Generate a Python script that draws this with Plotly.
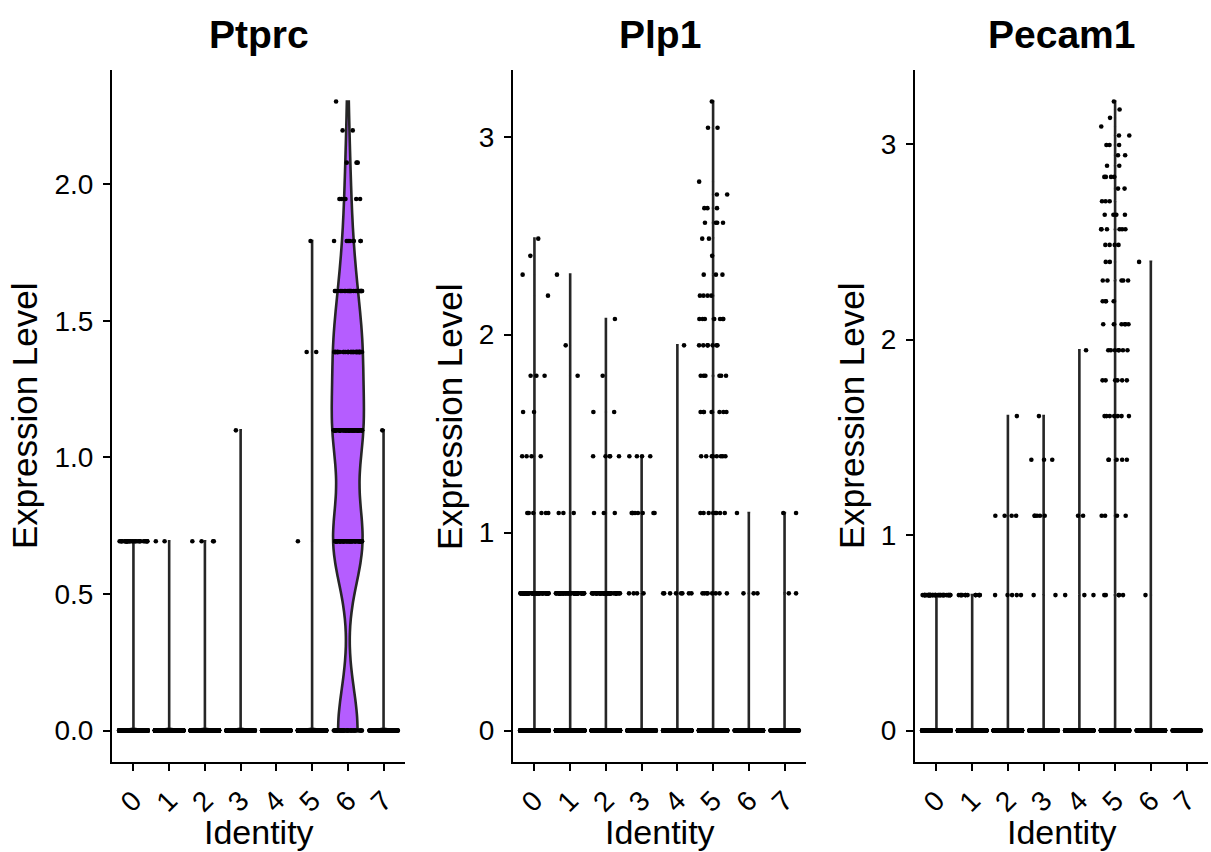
import numpy as np
import plotly.graph_objects as go

# ---- data -----------------------------------------------------------------
CLUSTERS = ["0", "1", "2", "3", "4", "5", "6", "7"]
CLUSTER_SIZES = [900, 760, 680, 520, 480, 420, 243, 110]
CLUSTER_COLORS = ["#F8766D", "#CD9600", "#7CAE00", "#00BE67",
                  "#00BFC4", "#00A9FF", "#B55DFF", "#FF61CC"]
GENES = ["Ptprc", "Plp1", "Pecam1"]

# expression levels (log1p of UMI counts 0..24)
LEVELS = [0.000, 0.693, 1.099, 1.386, 1.609, 1.792, 1.946, 2.079, 2.197,
          2.303, 2.398, 2.485, 2.565, 2.639, 2.708, 2.773, 2.833, 2.890,
          2.944, 2.996, 3.045, 3.091, 3.135, 3.178, 3.219]

# cells per non-zero level (LEVELS[1], LEVELS[2], ...) for each cluster;
# the remaining cells of the cluster sit at 0
PTPRC_COUNTS = [
    [30],
    [2],
    [4],
    [0, 1],
    [],
    [1, 0, 2, 0, 1],
    [60, 55, 45, 22, 8, 6, 3, 2, 1],
    [0, 1],
]
PLP1_COUNTS = [
    [60, 6, 4, 2, 3, 0, 0, 1, 1, 1, 1],
    [50, 3, 0, 0, 1, 1, 0, 0, 1],
    [45, 3, 5, 2, 1, 0, 1],
    [4, 8, 4],
    [8, 0, 0, 0, 0, 1],
    [8, 8, 8, 7, 6, 7, 7, 4, 3, 1, 2, 4, 3, 2, 1, 0, 0, 0, 0, 2, 0, 0, 1],
    [3, 1],
    [2, 2],
]
PECAM1_COUNTS = [
    [40],
    [12],
    [5, 4, 0, 1],
    [2, 5, 3, 1],
    [3, 2, 0, 0, 0, 1],
    [5, 4, 5, 7, 6, 7, 6, 4, 5, 2, 4, 6, 4, 3, 2, 4, 2, 2, 3, 2, 1, 1, 1, 1],
    [1, 0, 0, 0, 0, 0, 0, 0, 0, 1],
    [],
]
GENE_COUNTS = [PTPRC_COUNTS, PLP1_COUNTS, PECAM1_COUNTS]
Y_TICKS = [[0, 0.5, 1.0, 1.5, 2.0], [0, 1, 2, 3], [0, 1, 2, 3]]
Y_TICKTEXT = [["0.0", "0.5", "1.0", "1.5", "2.0"], ["0", "1", "2", "3"], ["0", "1", "2", "3"]]

# ---- layout geometry (pixels) ---------------------------------------------
W, H = 1211, 852
PANEL_X = [(112, 405), (513, 806), (915, 1208)]
PANEL_TOP, PANEL_BOTTOM = 70, 762
YTITLE_X = [25, 450, 852]
FONT = "Liberation Sans, Arial, Helvetica, sans-serif"
LEVEL_NUDGE = 5e-4  # keeps each expression level in its own jitter group


def px_x(v):
    return v / W


def px_y(v):
    return 1 - v / H


def nrd0(vals):
    """Silverman's rule of thumb (R's bw.nrd0); tiny when the IQR collapses."""
    q1, q3 = np.percentile(vals, [25, 75])
    if q3 - q1 <= 0:
        return 0.003
    lo = min(vals.std(ddof=1), (q3 - q1) / 1.34)
    return 0.9 * lo * len(vals) ** -0.2


fig = go.Figure()
annotations = []

for g, (gene, counts) in enumerate(zip(GENES, GENE_COUNTS)):
    sfx = "" if g == 0 else str(g + 1)
    xa, ya = "x" + sfx, "y" + sfx
    gene_max = 0.0
    pt_x, pt_y = [], []
    for c in range(len(CLUSTERS)):
        nz = counts[c]
        n_zero = CLUSTER_SIZES[c] - sum(nz)
        per_level = [n_zero] + list(nz)
        vals = np.repeat(LEVELS[:len(per_level)], per_level)
        vmax = float(vals.max())
        gene_max = max(gene_max, vmax)
        if vmax > 0:
            fig.add_trace(go.Violin(
                x=np.full(len(vals), c), y=vals, xaxis=xa, yaxis=ya,
                bandwidth=nrd0(vals), spanmode="hard", scalemode="width", width=0.9,
                fillcolor=CLUSTER_COLORS[c], line=dict(color="#262626", width=2.6),
                points=False, box_visible=False, meanline_visible=False,
                showlegend=False, hoverinfo="skip",
            ))
        for j, k in enumerate(per_level):
            if k > 0:
                pt_x.extend([c + j * LEVEL_NUDGE] * k)
                pt_y.extend([LEVELS[j]] * k)

    # jittered cells, drawn on top of the violins
    fig.add_trace(go.Box(
        x=pt_x, y=pt_y, xaxis=xa, yaxis=ya,
        boxpoints="all", jitter=1, pointpos=0, width=0.8,
        fillcolor="rgba(0,0,0,0)", line=dict(color="rgba(0,0,0,0)", width=0),
        marker=dict(color="black", size=4.6, line=dict(width=0)),
        showlegend=False, hoverinfo="skip",
    ))

    x0, x1 = PANEL_X[g]
    axis_common = dict(showline=True, linecolor="black", linewidth=2,
                       ticks="outside", ticklen=7, tickwidth=2, tickcolor="black",
                       showgrid=False, zeroline=False,
                       tickfont=dict(family=FONT, size=28, color="black"))
    fig.layout["xaxis" + sfx] = dict(
        axis_common, domain=[px_x(x0), px_x(x1)], anchor=ya,
        tickvals=list(range(len(CLUSTERS))), ticktext=CLUSTERS,
        range=[-0.6, len(CLUSTERS) - 0.4], tickangle=-45, ticklabelstandoff=2,
    )
    fig.layout["yaxis" + sfx] = dict(
        axis_common, domain=[px_y(PANEL_BOTTOM), px_y(PANEL_TOP)], anchor=xa,
        range=[-0.05 * gene_max, 1.05 * gene_max],
        tickvals=Y_TICKS[g], ticktext=Y_TICKTEXT[g], ticklabelstandoff=4,
    )

    cx = (x0 + x1) / 2
    annotations.append(dict(text="<b>%s</b>" % gene, x=px_x(cx), y=px_y(35),
                            xref="paper", yref="paper", showarrow=False,
                            xanchor="center", yanchor="middle",
                            font=dict(family=FONT, size=39, color="black")))
    annotations.append(dict(text="Identity", x=px_x(cx), y=px_y(832),
                            xref="paper", yref="paper", showarrow=False,
                            xanchor="center", yanchor="middle",
                            font=dict(family=FONT, size=34, color="black")))
    annotations.append(dict(text="Expression Level", x=px_x(YTITLE_X[g]),
                            y=px_y((PANEL_TOP + PANEL_BOTTOM) / 2),
                            xref="paper", yref="paper", showarrow=False,
                            textangle=-90, xanchor="center", yanchor="middle",
                            font=dict(family=FONT, size=35, color="black")))

fig.update_layout(
    width=W, height=H, margin=dict(l=0, r=0, t=0, b=0),
    paper_bgcolor="white", plot_bgcolor="white",
    violinmode="overlay", boxmode="overlay",
    annotations=annotations, showlegend=False,
)

fig.write_html("out.html")
